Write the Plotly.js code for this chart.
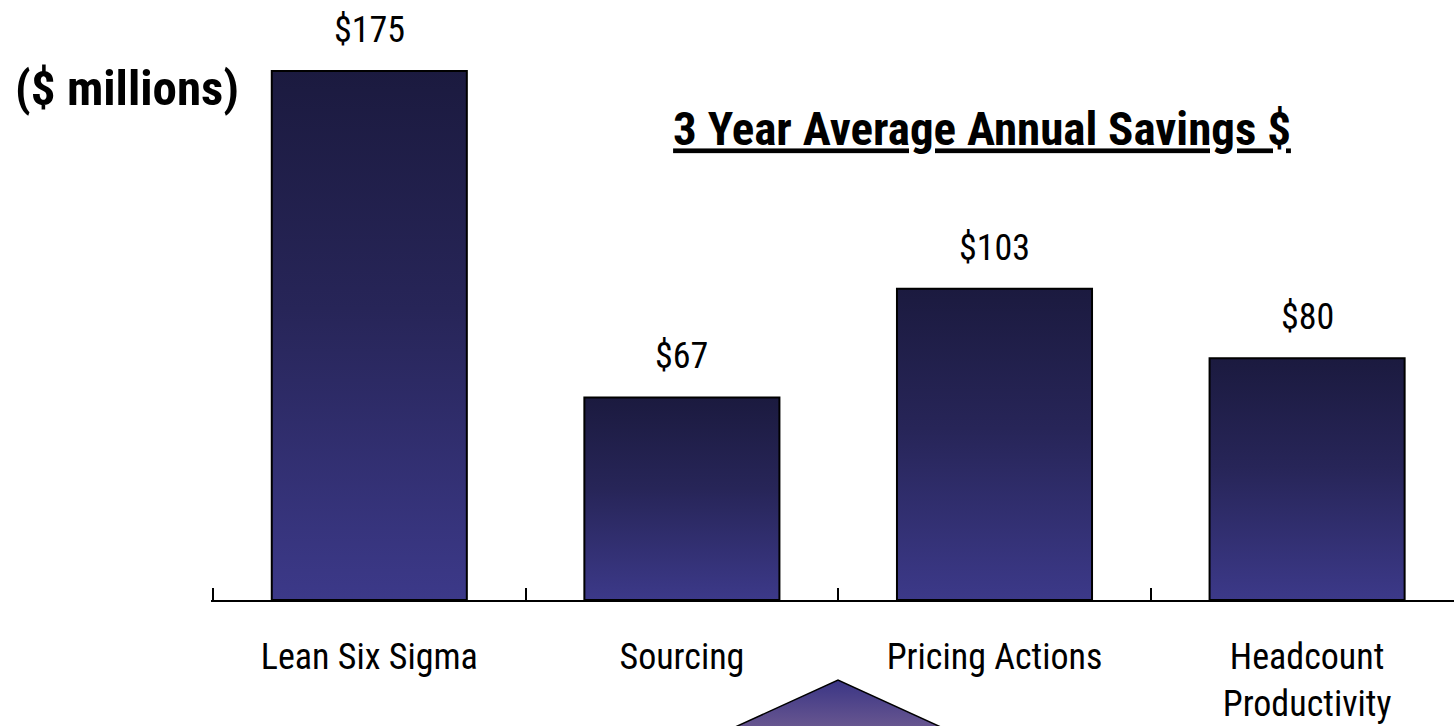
<!DOCTYPE html>
<html>
<head>
<meta charset="utf-8">
<script src="https://cdn.plot.ly/plotly-3.0.1.min.js"></script>
<style>
  html, body { margin: 0; padding: 0; background: #ffffff; }
  #chart { width: 1454px; height: 726px; }
</style>
</head>
<body>
<div id="chart"></div>
<script>
// ---- data ----
const categories = ["Lean Six Sigma", "Sourcing", "Pricing Actions", "Headcount<br>Productivity"];
const savings = [175, 67, 103, 80];
const valueLabels = savings.map(v => "$" + v);
const chartTitle = "3 Year Average Annual Savings $";
const unitLabel = "($ millions)";

const FONT = "'Roboto Condensed', 'Liberation Sans Narrow', 'Arial Narrow', sans-serif";

const W = 1454, H = 726;
const plotLeft = 211, axisY = 600;
const catPx = 312.6;

const trace = {
  type: "bar",
  x: categories,
  y: savings,
  width: 0.624,
  marker: { color: "#2b2966", line: { color: "#000000", width: 2 } },
  hoverinfo: "skip"
};

const annotations = categories.map((c, i) => ({
  x: c, y: savings[i], xref: "x", yref: "y",
  text: valueLabels[i], showarrow: false,
  yanchor: "middle", yshift: 41,
  font: { family: FONT, size: 36, color: "#000000" }
}));
annotations.push({
  x: 13 / W, y: 1 - 88 / H, xref: "paper", yref: "paper",
  xanchor: "left", yanchor: "middle", showarrow: false,
  text: "<b>" + unitLabel + "</b>",
  font: { family: FONT, size: 49, color: "#000000" }
});

const xStart = -0.5 - 2 / catPx;

const layout = {
  width: W, height: H,
  margin: { l: 0, r: 0, t: 0, b: 0, pad: 0 },
  paper_bgcolor: "#ffffff", plot_bgcolor: "#ffffff",
  showlegend: false,
  title: {
    text: "<b><u>" + chartTitle + "</u></b>",
    x: 982 / W, xanchor: "center", xref: "paper",
    y: 1 - 129 / H, yanchor: "middle", yref: "paper",
    font: { family: FONT, size: 47, color: "#000000" }
  },
  xaxis: {
    domain: [plotLeft / W, 1],
    type: "category",
    range: [xStart, xStart + (W - plotLeft) / catPx],
    showline: true, linecolor: "#000000", linewidth: 2,
    ticks: "inside", ticklen: 12, tickwidth: 2, tickcolor: "#000000",
    tickson: "boundaries",
    showgrid: false, zeroline: false,
    tickfont: { family: FONT, size: 36, color: "#000000" },
    ticklabelstandoff: 24,
    fixedrange: true
  },
  yaxis: {
    domain: [(H - axisY) / H, 1],
    range: [0, 198.5],
    visible: false, showgrid: false, zeroline: false,
    fixedrange: true
  },
  shapes: [{
    type: "path", xref: "paper", yref: "paper",
    path: "M " + (658 / W) + "," + (-0.05) + " L " + (838 / W) + "," + (1 - 680 / H) + " L " + (1018 / W) + "," + (-0.05) + " Z",
    fillcolor: "#5a4a8c",
    line: { color: "#000000", width: 1.5 },
    layer: "above"
  }],
  annotations: annotations,
  bargap: 0.376
};

Plotly.newPlot("chart", [trace], layout, { displayModeBar: false, staticPlot: true }).then(function (gd) {
  const svg = gd.querySelector("svg.main-svg");
  const defs = svg.querySelector("defs");
  const ns = "http://www.w3.org/2000/svg";
  function addGrad(id, stops) {
    const g = document.createElementNS(ns, "linearGradient");
    g.setAttribute("id", id);
    g.setAttribute("x1", "0"); g.setAttribute("y1", "0");
    g.setAttribute("x2", "0"); g.setAttribute("y2", "1");
    stops.forEach(function (s) {
      const st = document.createElementNS(ns, "stop");
      st.setAttribute("offset", s[0]);
      st.setAttribute("stop-color", s[1]);
      g.appendChild(st);
    });
    defs.appendChild(g);
  }
  addGrad("barGrad", [["0", "#1b1a3f"], ["0.45", "#272558"], ["1", "#3c3989"]]);
  addGrad("triGrad", [["0", "#3a3585"], ["1", "#8a6f98"]]);
  gd.querySelectorAll(".barlayer .point path").forEach(function (p) {
    p.style.fill = "url(#barGrad)";
  });
  gd.querySelectorAll(".shapelayer path").forEach(function (p) {
    p.style.fill = "url(#triGrad)";
    p.style.fillOpacity = 1;
  });
});
</script>
</body>
</html>
